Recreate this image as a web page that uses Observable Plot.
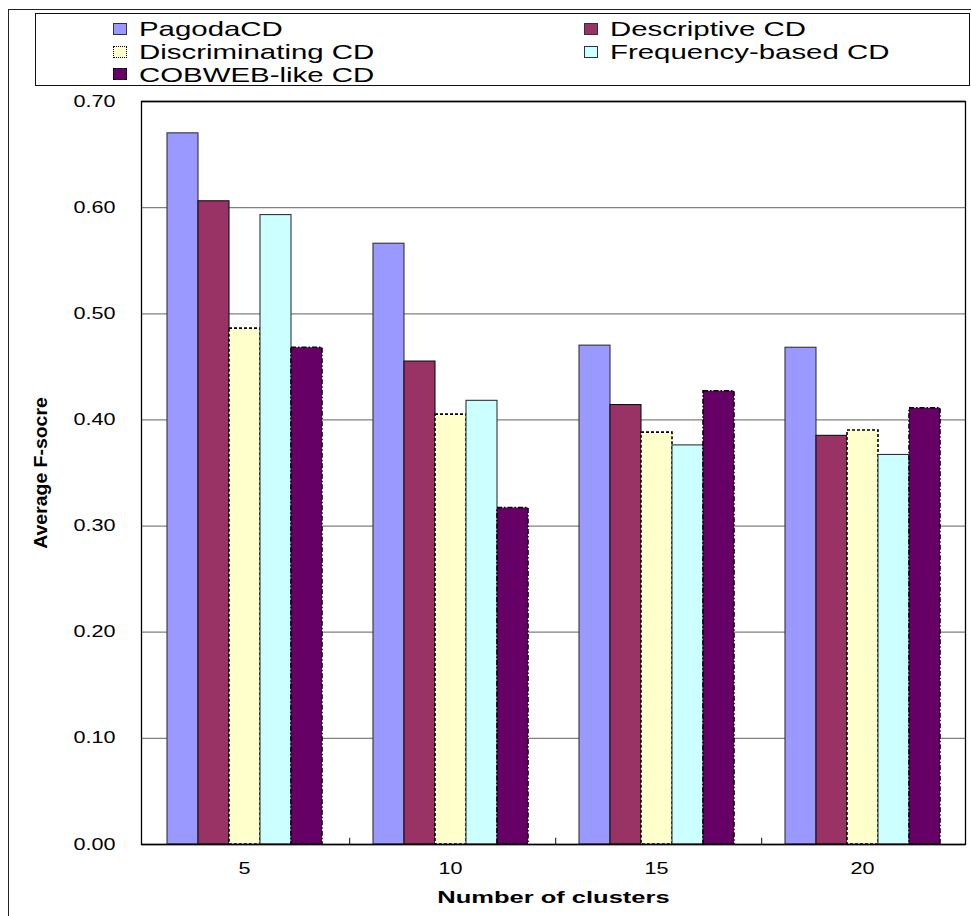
<!DOCTYPE html>
<html>
<head>
<meta charset="utf-8">
<script src="https://cdn.jsdelivr.net/npm/d3@7"></script>
<script src="https://cdn.jsdelivr.net/npm/@observablehq/plot@0.6"></script>
<style>
  body { margin: 0; background: #fff; font-family: "Liberation Sans", Arial, sans-serif; }
  #fig { position: relative; width: 971px; height: 916px; overflow: hidden; background: #fff; }
  #border { position: absolute; left: 8px; top: 9px; width: 990px; height: 940px; border: 1.5px solid #222; box-sizing: border-box; }
  #legend { position: absolute; left: 35px; top: 13px; width: 935px; height: 73px; border: 1px solid #111; box-sizing: border-box; background: #fff; }
  .sw { position: absolute; width: 14px; height: 12px; box-sizing: border-box; }
  .lab { position: absolute; white-space: nowrap; font-size: 21px; line-height: 23px; height: 23px; transform-origin: 0 50%; color: #000; }
  #chart { position: absolute; left: 0; top: 90px; }
  #chart svg g[aria-label$="axis label"] text { font-weight: bold; font-size: 17px; }
  #chart svg g[aria-label="y-axis label"] text { font-size: 18px; }
</style>
</head>
<body>
<div id="fig">
  <div id="border"></div>
  <div id="legend"></div>
  <div id="chart"></div>
</div>
<script>
// Number of clusters on the x axis
const categories = ["5", "10", "15", "20"];

// Clustering methods compared
const seriesNames = ["PagodaCD", "Descriptive CD", "Discriminating CD", "Frequency-based CD", "COBWEB-like CD"];

// Average F-score per method, one value per cluster count
const pagodaCD         = [0.670, 0.566, 0.470, 0.468];
const descriptiveCD    = [0.606, 0.455, 0.414, 0.385];
const discriminatingCD = [0.486, 0.405, 0.388, 0.390];
const frequencyCD      = [0.593, 0.418, 0.376, 0.367];
const cobwebCD         = [0.468, 0.317, 0.427, 0.411];
const seriesValues = [pagodaCD, descriptiveCD, discriminatingCD, frequencyCD, cobwebCD];

// Y axis ticks
const yTicks = [0, 0.1, 0.2, 0.3, 0.4, 0.5, 0.6, 0.7];
const gridTicks = [0.1, 0.2, 0.3, 0.4, 0.5, 0.6];

// Fill and outline style of each method
const seriesFill   = ["#9999FF", "#993366", "#FFFFCC", "#CCFFFF", "#660066"];
const seriesStroke = ["#333333", "#111111", "#000000", "#333333", "#000000"];
const seriesDash   = [null, null, "3,2", null, "5,2,1.5,2"];

const rows = categories.flatMap((c, i) =>
  seriesNames.map((s, j) => ({clusters: c, series: s, value: seriesValues[j][i]}))
);

// Legend (HTML, above the plot)
const legend = document.getElementById("legend");
const legendCols = [[77, 103], [548, 574]];
const legendRows = [14.5, 37.5, 60];
seriesNames.forEach((s, j) => {
  const col = legendCols[j % 2], rowY = legendRows[Math.floor(j / 2)];
  const sw = document.createElement("div");
  sw.className = "sw";
  sw.style.left = col[0] + "px";
  sw.style.top = (rowY - 6) + "px";
  sw.style.background = seriesFill[j];
  sw.style.border = seriesDash[j] ? (j === 2 ? "1.5px dotted #000" : "1.5px dashed #000") : "1px solid #333";
  legend.append(sw);
  const lab = document.createElement("div");
  lab.className = "lab";
  lab.textContent = s;
  lab.style.left = col[1] + "px";
  lab.style.top = (rowY - 11.5) + "px";
  lab.style.transform = "scaleX(1.4)";
  legend.append(lab);
});

// Geometry of the grouped bars inside each cluster band
const plotWidth = 971, marginLeft = 139, marginRight = 5;
const groupPaddingOuter = 0.73;
const bandWidth = (plotWidth - marginLeft - marginRight) / categories.length;
const barStep = bandWidth / (seriesNames.length + 2 * groupPaddingOuter);

const chart = Plot.plot({
  width: plotWidth,
  height: 826,
  marginLeft,
  marginRight,
  marginTop: 11,
  marginBottom: 72,
  style: {fontFamily: "Liberation Sans, Arial, sans-serif", fontSize: "16px", color: "#000", background: "transparent", overflow: "visible"},
  fx: {domain: categories, padding: 0, axis: null},
  x: {domain: seriesNames, paddingInner: 0, paddingOuter: groupPaddingOuter, axis: null},
  y: {domain: [0, 0.7], axis: null},
  marks: [
    Plot.gridY(gridTicks, {stroke: "#808080", strokeOpacity: 1, strokeWidth: 1.3}),
    ...seriesNames.map((s, j) => Plot.barY(rows.filter(d => d.series === s), {
      fx: "clusters", x: "series", y: "value",
      fill: seriesFill[j], stroke: seriesStroke[j],
      strokeWidth: seriesDash[j] ? 1.6 : 1.1,
      strokeDasharray: seriesDash[j] ?? undefined
    })),
    // short separators between cluster groups on the baseline
    Plot.ruleX(categories.slice(1), {
      fx: d => d, x: () => seriesNames[0], y1: 0, y2: 0.006,
      dx: -(groupPaddingOuter * barStep + barStep / 2), stroke: "#333", strokeWidth: 1.2
    }),
    Plot.ruleY([0, 0.7], {stroke: "#000", strokeWidth: 1.3}),
    Plot.axisY({ticks: yTicks, tickFormat: d3.format(".2f"), tickSize: 0, tickPadding: 26,
      label: "Average F-socre", labelArrow: "none", labelAnchor: "center", labelOffset: 107}),
    Plot.axisFx({anchor: "bottom", tickSize: 0, tickPadding: 18,
      label: "Number of clusters", labelAnchor: "center", labelOffset: 58}),
    Plot.frame({facet: "super", stroke: "#000", strokeWidth: 1.3})
  ]
});

document.getElementById("chart").append(chart);

// Widen the axis text horizontally around its anchor point
chart.querySelectorAll("text").forEach(t => {
  const g = t.closest("g[aria-label]");
  const aria = g ? g.getAttribute("aria-label") : "";
  const isTitle = /axis label$/.test(aria);
  const k = isTitle ? (aria.startsWith("y") ? 1.08 : 1.5) : 1.35;
  const b = t.getBBox();
  const anchor = getComputedStyle(t).textAnchor;
  const ax = anchor === "end" ? b.x + b.width : anchor === "middle" ? b.x + b.width / 2 : b.x;
  const prev = t.getAttribute("transform") || "";
  t.setAttribute("transform", `${prev} translate(${ax},0) scale(${k},1) translate(${-ax},0)`);
});
</script>
</body>
</html>
